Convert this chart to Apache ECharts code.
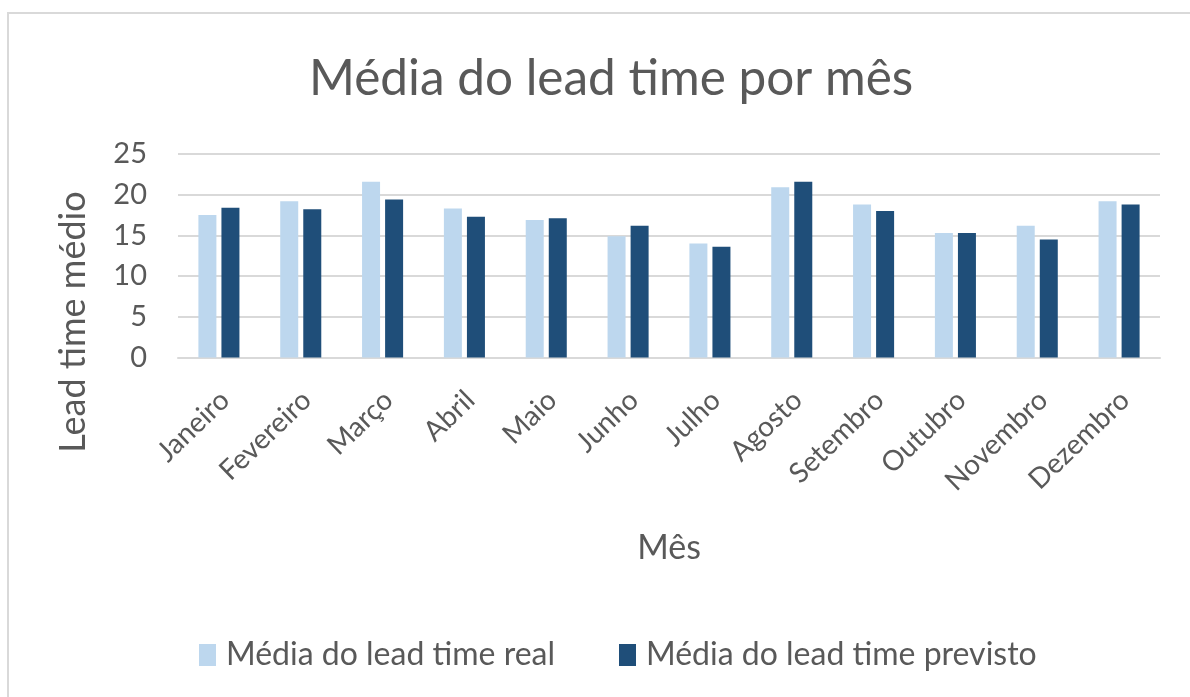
<!DOCTYPE html>
<html>
<head>
<meta charset="utf-8">
<script src="https://cdn.jsdelivr.net/npm/echarts@6/dist/echarts.min.js"></script>
<style>
  html, body { margin: 0; padding: 0; background: #ffffff; }
  #frame {
    position: absolute; left: 7px; top: 12px; width: 1190px; height: 700px;
    border-top: 2px solid #d9d9d9; border-left: 2px solid #d9d9d9;
  }
  #chart { position: absolute; left: 0; top: 0; width: 1190px; height: 697px; }
</style>
</head>
<body>
<div id="frame"></div>
<div id="chart"></div>
<script>
// Monthly average lead time: actual vs. forecast
const months = ['Janeiro', 'Fevereiro', 'Março', 'Abril', 'Maio', 'Junho',
                'Julho', 'Agosto', 'Setembro', 'Outubro', 'Novembro', 'Dezembro'];
const leadTimeReal = [17.5, 19.2, 21.6, 18.3, 16.9, 14.9, 14.0, 20.9, 18.8, 15.3, 16.2, 19.2];
const leadTimePrevisto = [18.4, 18.2, 19.4, 17.3, 17.1, 16.2, 13.6, 21.6, 18.0, 15.3, 14.5, 18.8];
const yTicks = [0, 5, 10, 15, 20, 25];

const FONT = 'Lato, "Open Sans", sans-serif';
const TEXT = '#595959';

const chart = echarts.init(document.getElementById('chart'));
chart.setOption({
  backgroundColor: 'transparent',
  animation: false,
  title: {
    text: 'Média do lead time por mês',
    left: 304,
    top: 49,
    textStyle: { fontFamily: FONT, fontSize: 49.5, fontWeight: 'normal', color: TEXT }
  },
  legend: {
    top: 634,
    left: 194,
    itemWidth: 17,
    itemHeight: 22,
    itemGap: 64,
    icon: 'rect',
    textStyle: { fontFamily: FONT, fontSize: 32, color: TEXT, padding: [0, 0, 0, 5] }
  },
  // vertical value-axis title, centred on the axis block including its labels
  graphic: [{
    type: 'text',
    x: 73,
    y: 322,
    rotation: Math.PI / 2,
    style: {
      text: 'Lead time médio',
      fontFamily: FONT,
      fontSize: 36,
      fill: TEXT,
      align: 'center',
      verticalAlign: 'middle'
    }
  }],
  grid: { left: 178, right: 30, top: 154, bottom: 339.5, containLabel: false },
  xAxis: {
    type: 'category',
    data: months,
    name: 'Mês',
    nameLocation: 'middle',
    nameGap: 174,
    nameTextStyle: { fontFamily: FONT, fontSize: 34, color: TEXT },
    axisLine: { lineStyle: { color: '#d9d9d9', width: 2 } },
    axisTick: { show: false },
    axisLabel: {
      rotate: 44, margin: 12, interval: 0,
      verticalAlign: 'top', padding: [9, 14, 0, 0],
      fontFamily: FONT, fontSize: 28, color: TEXT
    }
  },
  yAxis: {
    type: 'value',
    min: yTicks[0],
    max: yTicks[yTicks.length - 1],
    interval: yTicks[1] - yTicks[0],
    axisLine: { show: false },
    axisTick: { show: false },
    axisLabel: { margin: 31, fontFamily: FONT, fontSize: 29, color: TEXT },
    splitLine: { lineStyle: { color: '#d9d9d9', width: 2 } }
  },
  series: [
    {
      name: 'Média do lead time real',
      type: 'bar',
      data: leadTimeReal,
      barWidth: '22%',
      barGap: '28%',
      itemStyle: { color: '#bdd7ee' }
    },
    {
      name: 'Média do lead time previsto',
      type: 'bar',
      data: leadTimePrevisto,
      barWidth: '22%',
      itemStyle: { color: '#1f4e79' }
    }
  ]
});
</script>
</body>
</html>
